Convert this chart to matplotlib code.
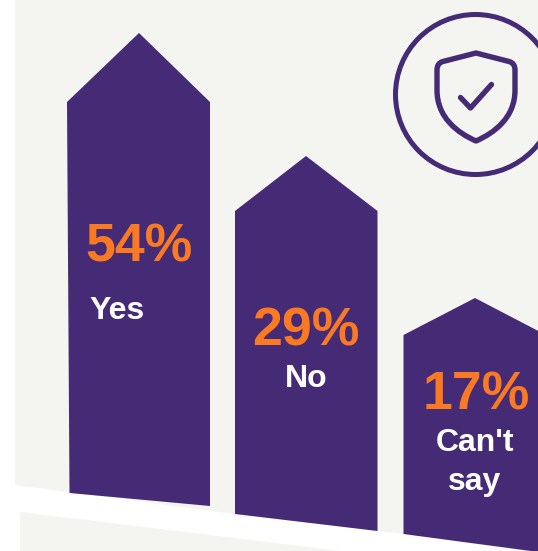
import matplotlib
matplotlib.use('Agg')
import matplotlib.pyplot as plt
from matplotlib.patches import Polygon, Circle, PathPatch
from matplotlib.path import Path

# values as printed on the chart
categories = ['Yes', 'No', "Can't\nsay"]
values = [54, 29, 17]

# arrow outlines (pixels, y down)
arrow_tip_y = [33, 156, 298]
arrow_shoulder_y = [102, 211, 335]
arrow_base_left_y = [493, 514, 534]
arrow_base_right_y = [506, 531, 553]

PURPLE = '#452A75'
ORANGE = '#F97A23'
PANEL = '#F4F5F1'
PX = 0.72  # one pixel in points at dpi 100

plt.rcParams['font.family'] = ['Liberation Sans', 'DejaVu Sans']

fig = plt.figure(figsize=(5.38, 5.51), dpi=100, facecolor='white')
ax = fig.add_axes([0, 0, 1, 1])
ax.set_xlim(0, 538)
ax.set_ylim(551, 0)
ax.axis('off')

# slanted background panels
ax.add_patch(Polygon([(15, 0), (538, 0), (538, 553), (403, 534), (235, 514), (15, 485)],
                     fc=PANEL, ec='none', zorder=1))
ax.add_patch(Polygon([(20, 512), (300, 546), (340, 551), (20, 551)],
                     fc=PANEL, ec='none', zorder=1))

lefts = [67, 235, 403.5]
rights = [210, 377.5, 546]
tips = [139, 306, 475]
value_x = [139, 306, 476]
value_y = [261, 345, 409]
label_x = [117, 306, 475]
label_y = [319, 387, 451]

for i in range(len(values)):
    ax.add_patch(Polygon([(lefts[i], arrow_shoulder_y[i]), (tips[i], arrow_tip_y[i]),
                          (rights[i], arrow_shoulder_y[i]), (rights[i], arrow_base_right_y[i]),
                          (lefts[i] + (2.5 if i == 0 else 0), arrow_base_left_y[i])],
                         fc=PURPLE, ec='none', zorder=2))
    ax.text(value_x[i], value_y[i], f'{values[i]}%', color=ORANGE, fontsize=38.6,
            fontweight='bold', ha='center', va='baseline', zorder=3)
    # the last label wraps on two lines
    for j, line in enumerate(categories[i].split('\n')):
        ax.text(label_x[i], label_y[i] + 39 * j, line, color='white', fontsize=23,
                fontweight='bold', ha='center', va='baseline', zorder=3)

# shield icon
ax.add_patch(Circle((475.5, 94.5), 80, fc='none', ec=PURPLE, lw=5 * PX, zorder=3))
shield = Path(
    [(476, 53), (443, 61.5), (437, 63), (437, 70), (437, 90), (437, 118), (458, 133), (476, 141),
     (494, 133), (515, 118), (515, 90), (515, 70), (515, 63), (509, 61.5), (476, 53)],
    [Path.MOVETO, Path.LINETO, Path.CURVE3, Path.CURVE3, Path.LINETO,
     Path.CURVE4, Path.CURVE4, Path.CURVE4, Path.CURVE4, Path.CURVE4, Path.CURVE4,
     Path.LINETO, Path.CURVE3, Path.CURVE3, Path.CLOSEPOLY])
ax.add_patch(PathPatch(shield, fc='none', ec=PURPLE, lw=5.4 * PX, joinstyle='round', zorder=3))
ax.plot([460.5, 470.5, 491.5], [97.5, 108, 84.5], color=PURPLE, lw=5.4 * PX,
        solid_capstyle='round', solid_joinstyle='round', zorder=3)

fig.savefig('out.png', dpi=100)
